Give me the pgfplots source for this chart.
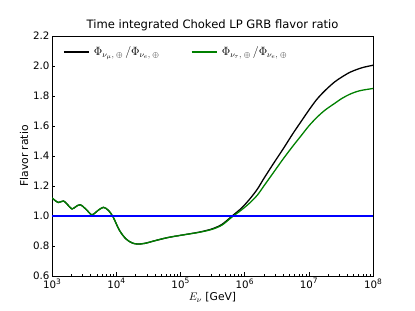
\documentclass[border=0pt]{standalone}
\usepackage{pgfplots}
\pgfplotsset{compat=1.18}
\usepackage{pgfplotstable}
\usepackage{fontspec}
\setmainfont{DejaVu Sans}
\pgfplotstableread{
lx b g
3.00 1.120 1.120
3.05 1.103 1.103
3.10 1.090 1.090
3.18 1.100 1.100
3.24 1.077 1.077
3.31 1.047 1.047
3.37 1.062 1.062
3.44 1.075 1.075
3.53 1.045 1.045
3.62 1.008 1.008
3.71 1.035 1.035
3.80 1.058 1.058
3.88 1.037 1.037
3.95 0.995 0.995
4.05 0.905 0.905
4.15 0.848 0.848
4.25 0.820 0.820
4.34 0.813 0.813
4.45 0.818 0.818
4.60 0.835 0.835
4.80 0.856 0.856
5.00 0.871 0.871
5.30 0.893 0.892
5.50 0.915 0.912
5.65 0.945 0.940
5.80 0.998 0.992
5.95 1.052 1.040
6.08 1.113 1.087
6.20 1.180 1.140
6.30 1.250 1.200
6.45 1.350 1.290
6.60 1.447 1.380
6.75 1.548 1.465
6.88 1.630 1.535
7.00 1.705 1.600
7.12 1.775 1.655
7.25 1.835 1.705
7.40 1.893 1.750
7.52 1.928 1.785
7.64 1.958 1.812
7.75 1.977 1.830
7.85 1.991 1.840
8.00 2.005 1.850
}\data
\newcommand{\tpow}[1]{10\raisebox{0.85ex}{\fontsize{7.5}{8}\selectfont #1}}
\begin{document}
\begin{tikzpicture}
\path (0,0) rectangle (415bp,311bp);
\begin{axis}[
  at={(52bp,35bp)}, anchor=south west,
  width=321bp, height=240bp, scale only axis,
  xmode=log, xmin=1e3, xmax=1e8, ymin=0.6, ymax=2.2,
  xtick={1e3,1e4,1e5,1e6,1e7,1e8},
  xticklabels={\tpow{3},\tpow{4},\tpow{5},\tpow{6},\tpow{7},\tpow{8}},
  ytick={0.6,0.8,...,2.2},
  yticklabel style={/pgf/number format/fixed,/pgf/number format/fixed zerofill,/pgf/number format/precision=1},
  /pgf/number format/assume math mode=true,
  tick align=inside, xtick pos=bottom, ytick pos=left,
  major tick length=3.5bp, minor tick length=2bp,
  tick style={black, line width=0.6pt},
  ticklabel style={font=\fontsize{10.3}{12}\selectfont},
  yticklabel style={xshift=1bp},
  xticklabel style={yshift=1bp},
  axis line style={line width=0.6pt},
  title={Time integrated Choked LP GRB flavor ratio},
  title style={font=\fontsize{11.6}{13}\selectfont, yshift=-4bp},
  xlabel={$E_\nu$ [GeV]}, ylabel={Flavor ratio},
  label style={font=\fontsize{10.8}{12}\selectfont},
  xlabel style={yshift=3bp},
  ylabel style={yshift=-2bp},
  legend columns=2,
  legend style={draw=none, fill=none, inner sep=0pt, at={(0.034,0.933)}, anchor=west,
    font=\fontsize{12}{14}\selectfont,
    /tikz/every even column/.append style={column sep=27bp},
    nodes={inner xsep=4.5bp}},
  legend image code/.code={\draw[#1, line width=1.3pt] (0bp,0bp) -- (25bp,0bp);},
  legend cell align=left,
]
\addplot[black, line width=1.3pt, smooth] table[x expr=10^\thisrow{lx}, y=b] {\data};
\addlegendentry{$\Phi_{\nu_\mu,\;\oplus}\,/\Phi_{\nu_e,\;\oplus}$}
\addplot[green!50!black, line width=1.3pt, smooth] table[x expr=10^\thisrow{lx}, y=g] {\data};
\addlegendentry{$\Phi_{\nu_\tau,\;\oplus}\,/\Phi_{\nu_e,\;\oplus}$}
\addplot[blue, line width=1.3pt, forget plot] coordinates {(1e3,1) (1e8,1)};
\end{axis}
\end{tikzpicture}
\end{document}
